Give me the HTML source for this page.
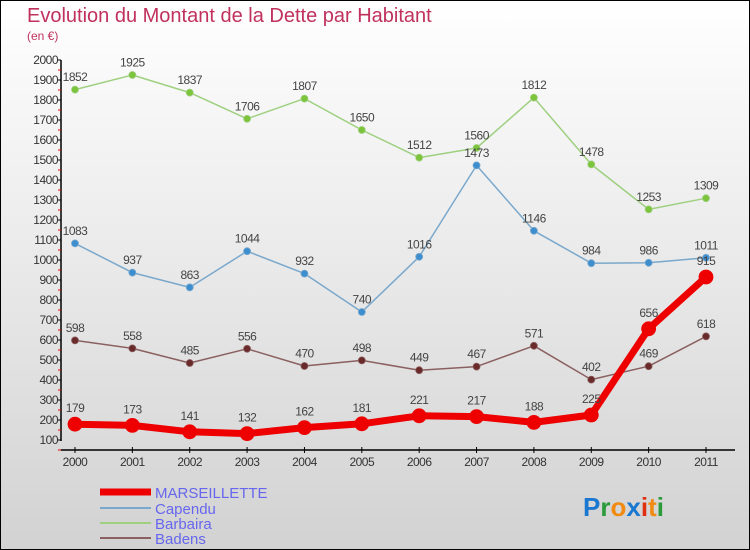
<!DOCTYPE html>
<html><head><meta charset="utf-8"><style>
body{margin:0;}
svg{display:block;font-family:"Liberation Sans",sans-serif;}
</style></head><body>
<svg id="c" width="750" height="550" xmlns="http://www.w3.org/2000/svg">
<defs><linearGradient id="bg" x1="0" y1="0" x2="0" y2="1"><stop offset="0" stop-color="#ffffff"/><stop offset="1" stop-color="#d2d2d2"/></linearGradient></defs>
<rect x="0.5" y="0.5" width="749" height="549" fill="url(#bg)" stroke="#000"/>
<text x="27" y="22" font-size="20" fill="#c0315e">Evolution du Montant de la Dette par Habitant</text>
<text x="27" y="40" font-size="12" fill="#c0315e">(en €)</text>
<g id="axes"></g><g id="series"></g>
<g>
<line x1="100" y1="492" x2="151" y2="492" stroke="#e00" stroke-width="7"/>
<text x="155" y="498" font-size="15" fill="#6666ee">MARSEILLETTE</text>
<line x1="100" y1="508" x2="151" y2="508" stroke="#7aa8cc" stroke-width="2"/>
<text x="155" y="514" font-size="15" fill="#6666ee">Capendu</text>
<line x1="100" y1="523" x2="151" y2="523" stroke="#9ed080" stroke-width="2"/>
<text x="155" y="529" font-size="15" fill="#6666ee">Barbaira</text>
<line x1="100" y1="538" x2="151" y2="538" stroke="#8b6060" stroke-width="2"/>
<text x="155" y="544" font-size="15" fill="#6666ee">Badens</text>
</g>
<text x="583" y="516" font-size="26" font-weight="bold"><tspan fill="#1a78d0">P</tspan><tspan fill="#2a9a3a">r</tspan><tspan fill="#f08a10">o</tspan><tspan fill="#1a78d0">x</tspan><tspan fill="#e03010">i</tspan><tspan fill="#f08a10">t</tspan><tspan fill="#2a9a3a">i</tspan></text>
</svg>
<script>
const years=[2000,2001,2002,2003,2004,2005,2006,2007,2008,2009,2010,2011];
const yTicks=[100,200,300,400,500,600,700,800,900,1000,1100,1200,1300,1400,1500,1600,1700,1800,1900,2000];
const marseillette=[179,173,141,132,162,181,221,217,188,225,656,915];
const capendu=[1083,937,863,1044,932,740,1016,1473,1146,984,986,1011];
const barbaira=[1852,1925,1837,1706,1807,1650,1512,1560,1812,1478,1253,1309];
const badens=[598,558,485,556,470,498,449,467,571,402,469,618];
const NS='http://www.w3.org/2000/svg';
function X(i){return 75+i*(706-75)/11;}
function Y(v){return 440-(v-100)*380/1900;}
function mk(t,a,p){const e=document.createElementNS(NS,t);for(const k in a)e.setAttribute(k,a[k]);p.appendChild(e);return e;}
const ax=document.getElementById('axes');
let yl=mk('line',{x1:61,y1:60,x2:61,y2:441,stroke:'#000','stroke-width':1.5},ax);


yTicks.forEach(v=>{
 mk('line',{x1:58,x2:61,y1:Y(v),y2:Y(v),stroke:'#000'},ax);
 mk('line',{x1:58,x2:61,y1:Y(v)+10,y2:Y(v)+10,stroke:'#e00'},ax);
 const t=mk('text',{x:58,y:Y(v)+4,'text-anchor':'end','font-size':12,fill:'#333','letter-spacing':'-0.5'},ax);
 t.textContent=v;
 
 
});
let xl=mk('line',{x1:61,y1:450,x2:735,y2:450,stroke:'#000','stroke-width':1.5},ax);


years.forEach((y,i)=>{
 mk('line',{x1:X(i),x2:X(i),y1:447,y2:453,stroke:'#000'},ax);
 const t=mk('text',{x:X(i),y:466,'text-anchor':'middle','font-size':12,fill:'#333','letter-spacing':'-0.5'},ax);
 t.textContent=y;
 
 
});
const sg=document.getElementById('series');
function series(vals,col,dot,w,r,name){
 const g=mk('g',{},sg);
 
 
 const pl=mk('polyline',{points:vals.map((v,i)=>X(i)+','+Y(v)).join(' '),fill:'none',stroke:col,'stroke-width':w,'stroke-linejoin':'round'},g);
 
 
 vals.forEach((v,i)=>{
  const c=mk('circle',{cx:X(i),cy:Y(v),r:r,fill:dot,stroke:col,'stroke-width':0.8},g);
  
  
  const t=mk('text',{x:X(i),y:Y(v)-(r+5),'text-anchor':'middle','font-size':12,fill:'#444','letter-spacing':'-0.5'},g);
  t.textContent=v;
  
  
 });
}
series(barbaira,'#9ed080','#7cc43c',1.5,3.5,'barbaira');
series(capendu,'#7aa8cc','#3d8ecf',1.5,3.5,'capendu');
series(badens,'#8b6060','#6a2a2a',1.5,3.5,'badens');
series(marseillette,'#ee0000','#ee0000',7,7,'marseillette');
</script>
</body></html>
